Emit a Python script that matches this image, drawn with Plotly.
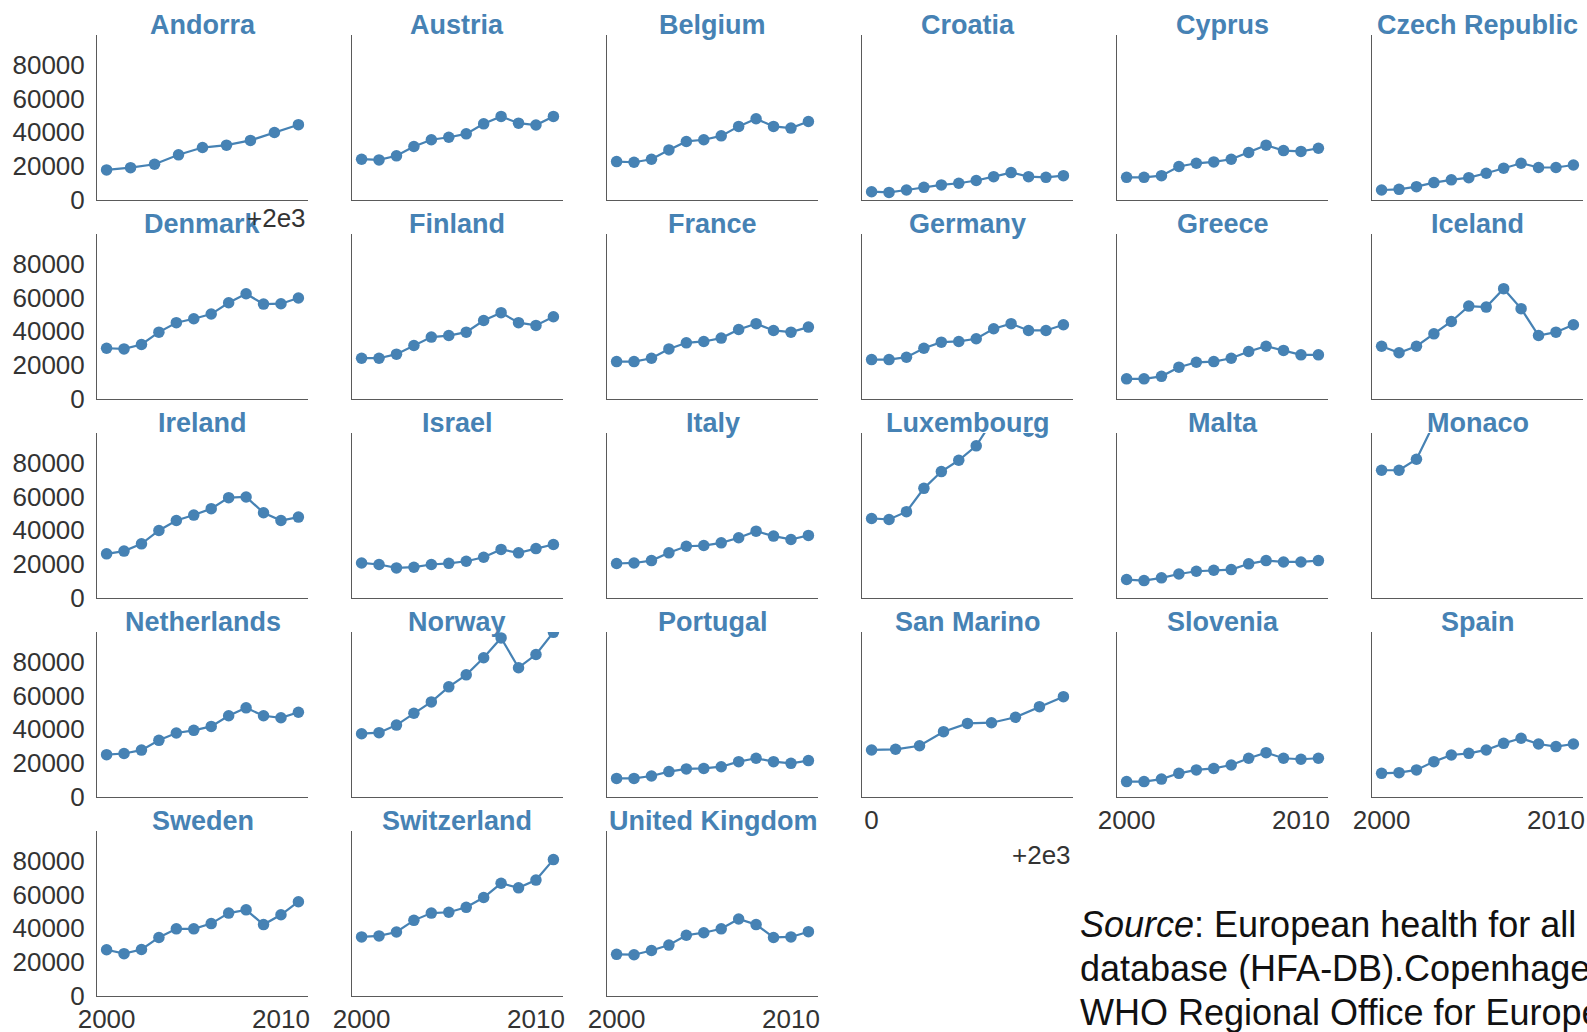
import plotly.graph_objects as go

W, H = 1587, 1032

years_full = list(range(2000, 2012))
years_short = list(range(2000, 2009))

countries = ["Andorra", "Austria", "Belgium", "Croatia", "Cyprus", "Czech Republic",
             "Denmark", "Finland", "France", "Germany", "Greece", "Iceland",
             "Ireland", "Israel", "Italy", "Luxembourg", "Malta", "Monaco",
             "Netherlands", "Norway", "Portugal", "San Marino", "Slovenia", "Spain",
             "Sweden", "Switzerland", "United Kingdom"]

andorra = [17800, 19100, 21100, 26700, 31000, 32400, 35200, 39900, 44500]
austria = [24100, 23700, 26100, 31600, 35600, 37100, 39100, 45000, 49400, 45400, 44300, 49400]
belgium = [22700, 22300, 24100, 29600, 34600, 35600, 37900, 43500, 48000, 43500, 42500, 46400]
croatia = [4900, 4500, 5900, 7500, 8900, 9900, 11500, 13800, 16200, 13800, 13400, 14400]
cyprus = [13400, 13400, 14400, 19800, 21700, 22500, 24100, 28100, 32400, 29200, 28700, 30600]
czech_republic = [5900, 6300, 7900, 10300, 11900, 13200, 15800, 18800, 21700, 19200, 19200, 20700]
denmark = [30000, 29600, 32200, 39500, 45100, 47400, 50200, 56900, 62200, 56100, 56300, 59700]
finland = [24100, 24100, 26500, 31600, 36600, 37500, 39500, 46400, 51000, 45100, 43500, 48600]
france = [22100, 22100, 24100, 29600, 33200, 34000, 36000, 41100, 44500, 40500, 39500, 42500]
germany = [23300, 23300, 24700, 30000, 33600, 34000, 35600, 41500, 44500, 40500, 40500, 43900]
greece = [11900, 11900, 13400, 18800, 21700, 22100, 24100, 28100, 31200, 28700, 26100, 26100]
iceland = [31200, 27300, 31200, 38500, 45800, 54900, 54300, 65200, 53400, 37500, 39500, 43900]
ireland = [26100, 27700, 32000, 39900, 45800, 49000, 52800, 59300, 59700, 50400, 45800, 47800]
israel = [20700, 19800, 17800, 18200, 19800, 20500, 21700, 24100, 28700, 26700, 29200, 31600]
italy = [20400, 20700, 22100, 26700, 30600, 31000, 32600, 35600, 39500, 36600, 34600, 37000]
luxembourg = [47000, 46400, 51000, 64800, 74700, 81400, 89900, 106000, 113000, 98600, 104000, 114000]
malta = [10900, 10300, 11900, 14200, 15800, 16400, 16800, 20200, 22100, 21300, 21300, 22100]
monaco = [75500, 75500, 82000, 103000, 118000, 126000, 137000, 165000, 183000, 160000, 155000, 168000]
netherlands = [25000, 25700, 27700, 33500, 37800, 39400, 41700, 48000, 52700, 48000, 46800, 50100]
norway = [37400, 38000, 42500, 49500, 56200, 65100, 72200, 82300, 94000, 76400, 84200, 97300]
portugal = [11000, 11000, 12400, 15000, 16600, 16900, 17900, 20900, 22900, 20900, 19900, 21500]
san_marino = [27800, 28200, 30300, 38600, 43500, 43900, 47100, 53400, 59300]
slovenia = [9100, 9100, 10600, 14000, 16000, 16900, 18900, 22900, 26200, 22900, 22300, 22900]
spain = [14000, 14400, 16000, 20900, 24800, 25800, 27800, 31700, 34700, 31300, 29800, 31300]
sweden = [27300, 25000, 27500, 34600, 39700, 39700, 42800, 49000, 50900, 42200, 48000, 55700]
switzerland = [34900, 35500, 37800, 44700, 49000, 49500, 52400, 58200, 66600, 63900, 68500, 80600]
united_kingdom = [24600, 24400, 26900, 30100, 35900, 37400, 39700, 45500, 42200, 34600, 34900, 38000]

series = [andorra, austria, belgium, croatia, cyprus, czech_republic,
          denmark, finland, france, germany, greece, iceland,
          ireland, israel, italy, luxembourg, malta, monaco,
          netherlands, norway, portugal, san_marino, slovenia, spain,
          sweden, switzerland, united_kingdom]

y_ticks = [0, 20000, 40000, 60000, 80000]
y_ticktext = ["0", "20000", "40000", "60000", "80000"]
y_max = 97500
x_ticks = [2000, 2010]
x_ticktext = ["2000", "2010"]
offset_text = "+2e3"

source_lines = ["<i>Source</i>: European health for all",
                "database (HFA-DB).Copenhagen,",
                "WHO Regional Office for Europe"]

BLUE = "#4682b4"
AXIS = "#5a5a5a"
TXT = "#333333"
FONT = "Liberation Sans, Arial, sans-serif"

col_left0, col_pitch, ax_w = 97, 255, 211
row_top0, row_pitch, ax_h = 35, 199, 165

fig = go.Figure()
annotations = []

xlabel_panels = {22, 23, 24, 25, 26}

for i, (name, vals) in enumerate(zip(countries, series)):
    r, c = divmod(i, 6)
    k = i + 1
    xs = years_full if len(vals) == 12 else years_short
    left = col_left0 + c * col_pitch
    top = row_top0 + r * row_pitch
    dom_x = [left / W, (left + ax_w) / W]
    dom_y = [1 - (top + ax_h) / H, 1 - top / H]
    span = xs[-1] - xs[0]
    xr = [xs[0] - 0.05 * span, xs[-1] + 0.05 * span]

    fig.add_trace(go.Scatter(
        x=xs, y=vals, mode="lines+markers",
        line=dict(color=BLUE, width=2.2),
        marker=dict(color=BLUE, size=11.5),
        xaxis=f"x{k}", yaxis=f"y{k}", showlegend=False, cliponaxis=True,
        hoverinfo="skip"))

    xa = dict(domain=dom_x, range=xr, anchor=f"y{k}", showgrid=False, zeroline=False,
              automargin=False, fixedrange=True,
              showline=True, linecolor=AXIS, linewidth=1,
              ticks="", 
              tickfont=dict(family=FONT, size=26, color=TXT))
    if i in xlabel_panels:
        xa.update(tickmode="array", tickvals=x_ticks, ticktext=x_ticktext, showticklabels=True)
    elif name == "San Marino":
        xa.update(tickmode="array", tickvals=[2000], ticktext=["0"], showticklabels=True)
    else:
        xa.update(showticklabels=False)

    ya = dict(domain=dom_y, range=[0, y_max], anchor=f"x{k}", showgrid=False, zeroline=False,
              automargin=False, fixedrange=True,
              showline=True, linecolor=AXIS, linewidth=1,
              tickmode="array", tickvals=y_ticks, ticktext=y_ticktext,
              ticks="outside", ticklen=6, tickcolor="rgba(0,0,0,0)",
              tickfont=dict(family=FONT, size=26, color=TXT),
              showticklabels=(c == 0))
    fig.update_layout({f"xaxis{k}": xa, f"yaxis{k}": ya})

    annotations.append(dict(
        text=f"<b>{name}</b>", x=(left + ax_w / 2) / W, y=1 - (top - 10) / H,
        xref="paper", yref="paper", xanchor="center", yanchor="middle",
        showarrow=False, font=dict(family=FONT, size=27, color=BLUE)))

# offset texts (right-aligned at the axis' right end)
annotations.append(dict(text=offset_text, x=(col_left0 + ax_w) / W, y=1 - 218 / H,
                        xref="paper", yref="paper", xanchor="right", yanchor="middle",
                        showarrow=False, font=dict(family=FONT, size=26, color=TXT)))
annotations.append(dict(text=offset_text, x=(col_left0 + 3 * col_pitch + ax_w) / W, y=1 - 855 / H,
                        xref="paper", yref="paper", xanchor="right", yanchor="middle",
                        showarrow=False, font=dict(family=FONT, size=26, color=TXT)))

for j, line in enumerate(source_lines):
    annotations.append(dict(text=line, x=1078 / W, y=1 - (924 + 44 * j) / H,
                            xref="paper", yref="paper", xanchor="left", yanchor="middle",
                            showarrow=False, font=dict(family=FONT, size=36, color="#111111")))

fig.update_layout(width=W, height=H, autosize=False,
                  margin=dict(l=0, r=0, t=0, b=0, autoexpand=False),
                  paper_bgcolor="white", plot_bgcolor="white",
                  annotations=annotations)

fig.write_html("out.html", config={"displayModeBar": False},
               post_script="document.body.style.margin='0';")
